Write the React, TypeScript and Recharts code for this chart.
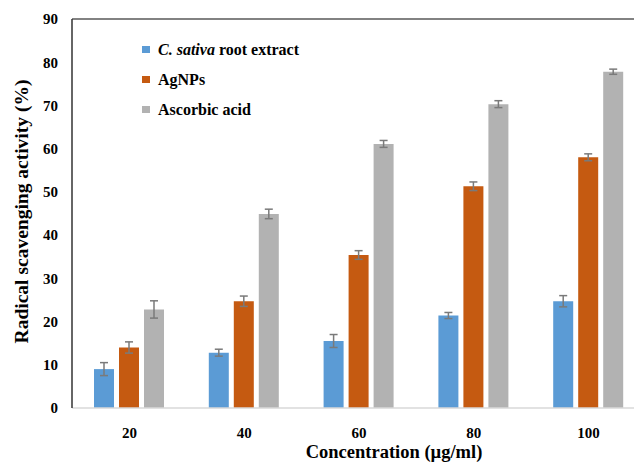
import React from 'react';
import { BarChart, Bar, XAxis, YAxis, ErrorBar, Legend, ReferenceLine } from 'recharts';

const concentrations = ['20', '40', '60', '80', '100'];
const rootExtract = [9.0, 12.8, 15.5, 21.4, 24.7];
const rootExtractErr = [1.5, 0.8, 1.5, 0.7, 1.3];
const agNPs = [14.0, 24.7, 35.4, 51.3, 58.0];
const agNPsErr = [1.3, 1.2, 1.0, 1.0, 0.8];
const ascorbic = [22.8, 44.9, 61.1, 70.3, 77.8];
const ascorbicErr = [2.0, 1.1, 0.8, 0.8, 0.6];
const yTicks = [0, 10, 20, 30, 40, 50, 60, 70, 80, 90];

const data = concentrations.map((c, i) => ({
  conc: c,
  root: rootExtract[i],
  rootErr: rootExtractErr[i],
  ag: agNPs[i],
  agErr: agNPsErr[i],
  asc: ascorbic[i],
  ascErr: ascorbicErr[i],
}));

const FONT = 'Liberation Serif, DejaVu Serif, serif';

const legendItems = [
  { color: '#5B9BD5', label: <><tspan fontStyle="italic">C. sativa</tspan> root extract</> },
  { color: '#C55A11', label: <>AgNPs</> },
  { color: '#B2B2B2', label: <>Ascorbic acid</> },
];

function renderLegend() {
  return (
    <svg width={220} height={90} style={{ display: 'block' }}>
      {legendItems.map((item, i) => (
        <g key={i} transform={`translate(0, ${i * 30})`}>
          <rect x={2} y={10} width={8} height={7} fill={item.color} />
          <text x={18} y={19} fontSize={16} fontWeight="bold" fill="#000" fontFamily={FONT}>
            {item.label}
          </text>
        </g>
      ))}
    </svg>
  );
}

export default function App() {
  return (
    <div style={{ position: 'fixed', left: 0, top: 0, width: 634, height: 466, overflow: 'hidden', background: '#fff', fontFamily: FONT }}>
      <BarChart
        width={660}
        height={466}
        data={data}
        margin={{ top: 19, right: 14, bottom: 0, left: 0 }}
        barSize={20}
        barGap={5}
        barCategoryGap={21}
      >
        <XAxis
          dataKey="conc"
          height={58}
          axisLine={{ stroke: '#d9d9d9', strokeWidth: 1.5 }}
          tickLine={false}
          tickSize={6}
          tickMargin={13}
          tick={{ fontSize: 15, fontWeight: 'bold', fill: '#000', fontFamily: FONT }}
          label={{
            value: 'Concentration (µg/ml)',
            position: 'insideBottom',
            offset: 8,
            dx: 35,
            fontFamily: FONT,
            style: { fontSize: 18.5, fontWeight: 'bold', fill: '#000', fontFamily: FONT },
          }}
        />
        <YAxis
          width={72}
          domain={[0, 90]}
          ticks={yTicks}
          interval={0}
          axisLine={{ stroke: '#333', strokeWidth: 1.5 }}
          tickLine={false}
          tickSize={6}
          tickMargin={8}
          tick={{ fontSize: 15, fontWeight: 'bold', fill: '#000', fontFamily: FONT }}
          label={{
            value: 'Radical scavenging activity (%)',
            angle: -90,
            position: 'insideLeft',
            offset: 21,
            dy: -2,
            fontFamily: FONT,
            style: { textAnchor: 'middle', fontSize: 19.5, fontWeight: 'bold', fill: '#000', fontFamily: FONT },
          }}
        />
        <ReferenceLine y={90} stroke="#595959" strokeWidth={1.5} />
        <Legend
          layout="vertical"
          align="center"
          verticalAlign="middle"
          content={renderLegend}
          wrapperStyle={{ left: 140, top: 36, width: 220 }}
        />
        <Bar dataKey="root" name="C. sativa root extract" fill="#5B9BD5" isAnimationActive={false}>
          <ErrorBar dataKey="rootErr" width={4} stroke="#7a7a7a" strokeWidth={1.5} />
        </Bar>
        <Bar dataKey="ag" name="AgNPs" fill="#C55A11" isAnimationActive={false}>
          <ErrorBar dataKey="agErr" width={4} stroke="#7a7a7a" strokeWidth={1.5} />
        </Bar>
        <Bar dataKey="asc" name="Ascorbic acid" fill="#B2B2B2" isAnimationActive={false}>
          <ErrorBar dataKey="ascErr" width={4} stroke="#7a7a7a" strokeWidth={1.5} />
        </Bar>
      </BarChart>
    </div>
  );
}
